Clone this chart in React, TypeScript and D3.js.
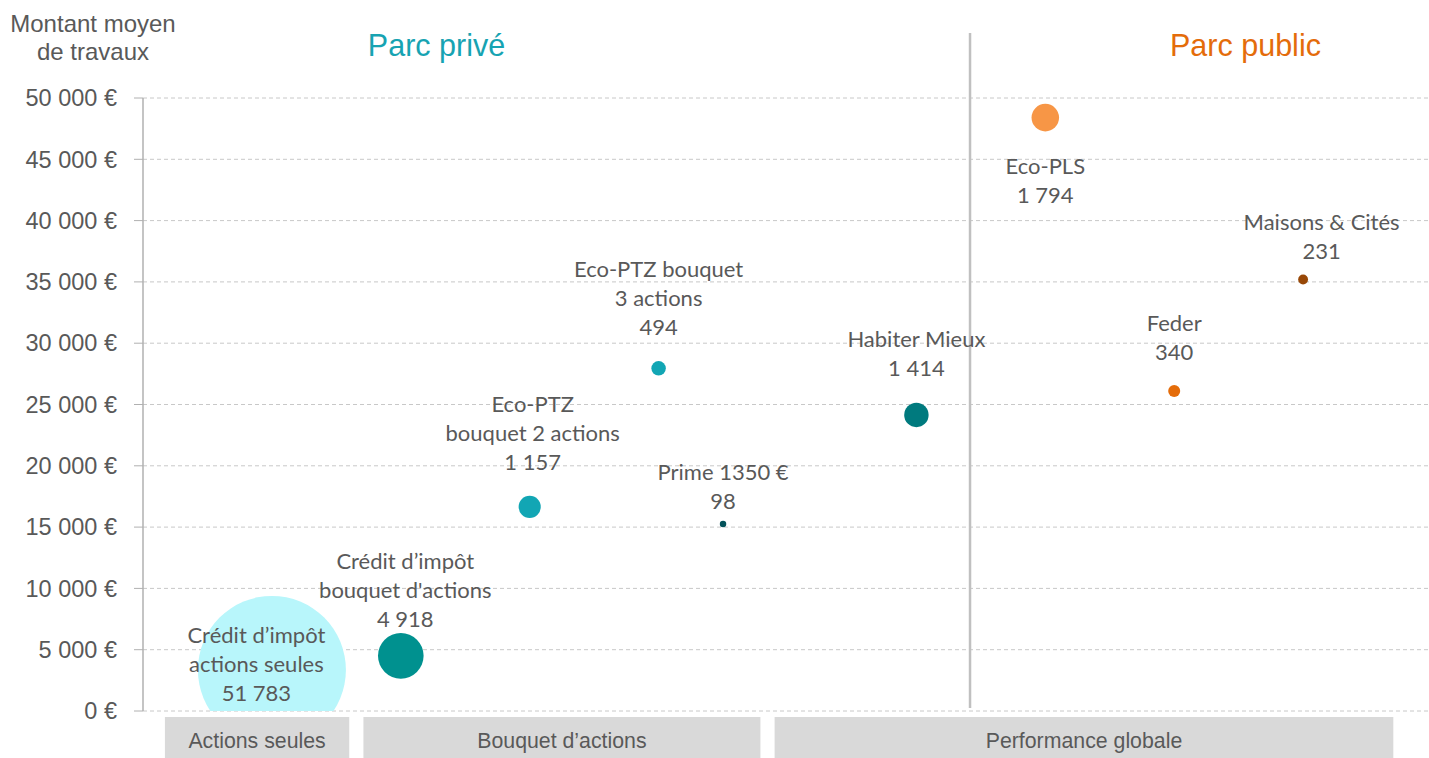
import React from "react";
import * as d3 from "d3";

// ---- Data ----
const labelLines: string[][] = [
  ["Crédit d’impôt", "actions seules"],
  ["Crédit d’impôt", "bouquet d'actions"],
  ["Eco-PTZ", "bouquet 2 actions"],
  ["Eco-PTZ bouquet", "3 actions"],
  ["Prime 1350 €"],
  ["Habiter Mieux"],
  ["Eco-PLS"],
  ["Feder"],
  ["Maisons & Cités"],
];
const xValues = [1, 2, 3, 4, 4.5, 6, 7, 8, 9];
const amounts = [3350, 4500, 16650, 27950, 15250, 24150, 48400, 26100, 35200];
const counts = [51783, 4918, 1157, 494, 98, 1414, 1794, 340, 231];
const bubbleColors = [
  "#b8f6fb",
  "#00918f",
  "#12a6b4",
  "#12a6b4",
  "#03525a",
  "#007a7e",
  "#f79646",
  "#e46c0a",
  "#984807",
];
// label placement offsets (px) relative to bubble centre: [dx, first-baseline dy]
const labelOffsets: [number, number][] = [
  [-15.5, -27],
  [4.5, -87],
  [3, -95.3],
  [0, -91.6],
  [0, -43.7],
  [0, -68],
  [0, 56.5],
  [0, -60.3],
  [18.5, -49.3],
];
const yTicks = d3.range(0, 50001, 5000);
const groupBoxes = [
  { label: "Actions seules", from: 0.17, to: 1.6 },
  { label: "Bouquet d’actions", from: 1.71, to: 4.79 },
  { label: "Performance globale", from: 4.9, to: 9.7 },
];
const parcTitles = [
  { label: "Parc privé", at: 2.277, color: "#17a3b2" },
  { label: "Parc public", at: 8.553, color: "#e46c0a" },
];
const dividerAt = 6.416;

// ---- Layout ----
const W = 1429;
const H = 758;
const x = d3.scaleLinear().domain([0, 10]).range([143, 1432]);
const y = d3.scaleLinear().domain([0, 50000]).range([711, 98]);
const r = d3.scaleSqrt().domain([0, 51783]).range([0, 74]);

const fmtNum = (v: number) => d3.format(",")(v).replace(/,/g, " ");
const axisFont = "'Liberation Sans', Arial, sans-serif";
const labelFont = "Lato, 'Open Sans', sans-serif";
const textGrey = "#595959";

export default function App() {
  const [x0] = x.range();
  return (
    <svg
      width={W}
      height={H}
      style={{ position: "absolute", left: 0, top: 0, background: "#fff" }}
    >
      <defs>
        <clipPath id="plotClip">
          <rect x={x0} y={0} width={W - x0} height={y(0)} />
        </clipPath>
      </defs>

      {/* Axis title */}
      <text
        x={93}
        y={32}
        textAnchor="middle"
        fontFamily={axisFont}
        fontSize={24}
        fill={textGrey}
      >
        <tspan x={93} y={32}>Montant moyen</tspan>
        <tspan x={93} y={60}>de travaux</tspan>
      </text>

      {/* Parc titles */}
      {parcTitles.map((t) => (
        <text
          key={t.label}
          x={x(t.at)}
          y={56}
          textAnchor="middle"
          fontFamily={axisFont}
          fontSize={30.5}
          fill={t.color}
        >
          {t.label}
        </text>
      ))}

      {/* Gridlines and ticks */}
      {yTicks.map((v) => (
        <g key={v}>
          <line
            x1={x0}
            x2={W}
            y1={y(v)}
            y2={y(v)}
            stroke="#c8c8c8"
            strokeWidth={1}
            strokeDasharray="4,3"
          />
          <line x1={x0 - 9} x2={x0} y1={y(v)} y2={y(v)} stroke="#b0b0b0" strokeWidth={1} />
          <text
            x={117}
            y={y(v)}
            dy="0.35em"
            textAnchor="end"
            fontFamily={axisFont}
            fontSize={23.5}
            fill={textGrey}
          >
            {fmtNum(v) + " €"}
          </text>
        </g>
      ))}

      {/* Y axis line */}
      <line x1={x0} x2={x0} y1={y(50000)} y2={y(0)} stroke="#b0b0b0" strokeWidth={1.5} />

      {/* Divider */}
      <line
        x1={x(dividerAt)}
        x2={x(dividerAt)}
        y1={33}
        y2={708}
        stroke="#c0c0c0"
        strokeWidth={2.5}
      />

      {/* Bubbles */}
      <g clipPath="url(#plotClip)">
        {counts.map((c, i) => (
          <circle
            key={i}
            cx={x(xValues[i])}
            cy={y(amounts[i])}
            r={r(c)}
            fill={bubbleColors[i]}
          />
        ))}
      </g>

      {/* Labels */}
      {counts.map((c, i) => {
        const cx = x(xValues[i]) + labelOffsets[i][0];
        const by = y(amounts[i]) + labelOffsets[i][1];
        const lines = [...labelLines[i], fmtNum(c)];
        return (
          <text
            key={i}
            textAnchor="middle"
            fontFamily={labelFont}
            fontSize={22}
            fill={textGrey}
          >
            {lines.map((ln, j) => (
              <tspan key={j} x={cx} y={by + j * 29}>
                {ln}
              </tspan>
            ))}
          </text>
        );
      })}

      {/* Group boxes */}
      {groupBoxes.map((b) => (
        <g key={b.label}>
          <rect
            x={x(b.from)}
            y={717}
            width={x(b.to) - x(b.from)}
            height={H - 717}
            fill="#d9d9d9"
          />
          <text
            x={(x(b.from) + x(b.to)) / 2}
            y={748}
            textAnchor="middle"
            fontFamily={axisFont}
            fontSize={21.3}
            fill={textGrey}
          >
            {b.label}
          </text>
        </g>
      ))}
    </svg>
  );
}
